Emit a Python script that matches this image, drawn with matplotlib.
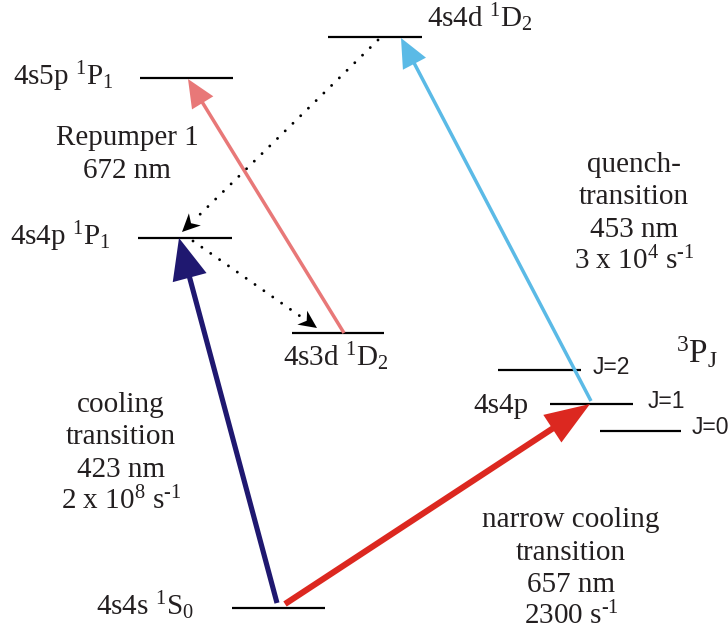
import numpy as np
import matplotlib
matplotlib.use("Agg")
import matplotlib.pyplot as plt
from matplotlib.patches import Polygon

plt.rcParams['font.family'] = 'Liberation Serif'
plt.rcParams['mathtext.fontset'] = 'custom'
plt.rcParams['mathtext.rm'] = 'Liberation Serif'
plt.rcParams['mathtext.it'] = 'Liberation Serif:italic'
plt.rcParams['mathtext.sf'] = 'Liberation Sans'

TXT = '#231f20'

# energy levels (picture units, y grows downward)
level_names = ["S0", "P1", "5pP1", "4dD2", "3dD2", "3P2", "3P1", "3P0"]
level_x0 = [232, 138, 140, 328, 292, 498, 550, 600]
level_x1 = [325, 232, 233, 422, 384, 581, 633, 681]
level_y = [608, 238, 78, 37, 333, 370, 404, 431]

# transitions: from level, to level, x on each level, y offset at each end
trans_from = ["S0", "S0", "3dD2", "3P1", "4dD2", "P1"]
trans_to = ["P1", "3P1", "5pP1", "4dD2", "P1", "3dD2"]
trans_x0 = [277, 285, 344, 591, 378, 193]
trans_x1 = [179, 590, 188, 401, 182, 317]
trans_dy0 = [-5, -4, 0, -3, 3, 3]
trans_dy1 = [0, 0, 1, 1, -6, -5]
trans_color = ['#1f1870', '#dc2820', '#e87878', '#5bbae6', 'black', 'black']
trans_lw = [3.7, 4.4, 2.5, 2.5, 2.1, 2.1]
trans_head = [(41, 35), (45, 33), (28, 25), (29, 26), (18, 17), (18, 17)]
trans_dotted = [False, False, False, False, True, True]


def lvl(name):
    return level_names.index(name)


def arrow(ax, p0, p1, color, lw, head_len, head_w, dotted):
    p0 = np.array(p0, float)
    p1 = np.array(p1, float)
    u = (p1 - p0) / np.hypot(*(p1 - p0))
    n = np.array([-u[1], u[0]])
    base = p1 - u * head_len
    if dotted:
        end = base - u * 2
        ax.plot([p0[0], end[0]], [p0[1], end[1]], color=color, lw=lw,
                linestyle=(0, (0.01, 3.7)), dash_capstyle='round')
        pts = [p1, base + n * head_w / 2, base + u * head_len * 0.3,
               base - n * head_w / 2]
    else:
        end = base + u * 3
        ax.plot([p0[0], end[0]], [p0[1], end[1]], color=color, lw=lw,
                solid_capstyle='butt')
        pts = [p1, base + n * head_w / 2, base - n * head_w / 2]
    ax.add_patch(Polygon(pts, closed=True, fc=color, ec='none', zorder=3))


fig = plt.figure(figsize=(7.28, 6.35), dpi=100)
ax = fig.add_axes([0, 0, 1, 1])
ax.set_xlim(0, 728)
ax.set_ylim(635, 0)
ax.axis('off')

for x0, x1, y in zip(level_x0, level_x1, level_y):
    ax.plot([x0, x1], [y, y], color='black', lw=1.6, solid_capstyle='butt')

for i in range(len(trans_from)):
    a, b = lvl(trans_from[i]), lvl(trans_to[i])
    p0 = (trans_x0[i], level_y[a] + trans_dy0[i])
    p1 = (trans_x1[i], level_y[b] + trans_dy1[i])
    arrow(ax, p0, p1, trans_color[i], trans_lw[i], *trans_head[i],
          trans_dotted[i])

fs = 21
# level labels
ax.text(13, 85, r"4s5p $^1$P$_1$", fontsize=fs, color=TXT, va='baseline')
ax.text(10, 245, r"4s4p $^1$P$_1$", fontsize=fs, color=TXT, va='baseline')
ax.text(427, 27, r"4s4d $^1$D$_2$", fontsize=fs, color=TXT, va='baseline')
ax.text(283, 366, r"4s3d $^1$D$_2$", fontsize=fs, color=TXT, va='baseline')
ax.text(96, 615, r"4s4s $^1$S$_0$", fontsize=fs, color=TXT, va='baseline')
ax.text(473, 413, "4s4p", fontsize=fs, color=TXT, va='baseline')
ax.text(676, 363, r"$^3$P$_\mathrm{J}$", fontsize=24, color=TXT,
        va='baseline')

j_labels = ["J=2", "J=1", "J=0"]
j_x = [593, 648, 692]
for lab, x, name in zip(j_labels, j_x, ["3P2", "3P1", "3P0"]):
    ax.text(x, level_y[lvl(name)] - 3, lab, fontsize=16.5, color=TXT,
            family='Liberation Sans', va='center')

# transition descriptions
blocks = [
    (127, 145, ["Repumper 1", "672 nm"]),
    (634, 172, ["quench-", "transition", "453 nm",
                r"3 x 10$^4$ s$^{\text{-1}}$"]),
    (121, 412, ["cooling", "transition", "423 nm",
                r"2 x 10$^8$ s$^{\text{-1}}$"]),
    (571, 527, ["narrow cooling", "transition", "657 nm",
                r"2300 s$^{\text{-1}}$"]),
]
for cx, y0, lines in blocks:
    for k, line in enumerate(lines):
        ax.text(cx, y0 + 32.5 * k, line, fontsize=fs, color=TXT,
                ha='center', va='baseline')

fig.savefig("out.png", dpi=100)
